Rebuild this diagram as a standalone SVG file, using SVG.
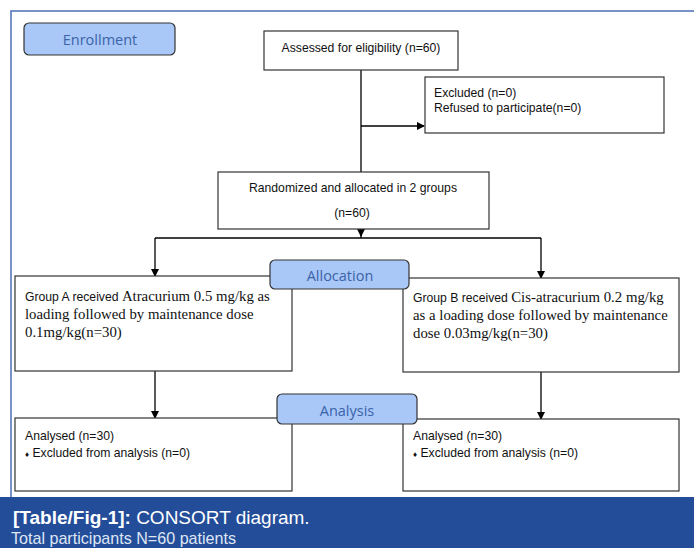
<svg xmlns="http://www.w3.org/2000/svg" width="694" height="548" viewBox="0 0 694 548">
<defs>
<marker id="ah" markerWidth="8" markerHeight="8" refX="7" refY="4" orient="auto" markerUnits="userSpaceOnUse">
<path d="M0,0 L8,4 L0,8 Z" fill="#000"/>
</marker>
<style>
.box{fill:#fff;stroke:#333;stroke-width:1.2}
.tag{fill:#a9c8f7;stroke:#333;stroke-width:1.2}
.tagt{font-family:"Open Sans","Liberation Sans",sans-serif;font-size:14.5px;fill:#3b63a8;text-anchor:middle}
.sans{font-family:"Liberation Sans",Arial,sans-serif;font-size:12.2px;fill:#111}
.serif{font-family:"Liberation Serif","Times New Roman",serif;font-size:14.8px;fill:#111}
.con{stroke:#000;stroke-width:1.3;fill:none}
</style>
</defs>
<rect width="694" height="548" fill="#fff"/>
<path d="M11,497 V11 H694" fill="none" stroke="#4a6fb8" stroke-width="1.5"/>

<g id="connectors">
<path class="con" d="M361,70 V173"/>
<path class="con" d="M361,126 H424" marker-end="url(#ah)"/>
<path class="con" d="M361,229 V238"/>
<path class="con" d="M361,229 V236" marker-end="url(#ah)"/>
<path class="con" d="M155,238 H541"/>
<path class="con" d="M155,238 V276" marker-end="url(#ah)"/>
<path class="con" d="M541,238 V278" marker-end="url(#ah)"/>
<path class="con" d="M155,371 V418" marker-end="url(#ah)"/>
<path class="con" d="M541,372 V419" marker-end="url(#ah)"/>
</g>

<g id="enrollment">
<rect class="tag" x="24" y="23" width="151" height="32" rx="5"/>
<text class="tagt" x="100" y="45">Enrollment</text>
</g>

<g id="assessed">
<rect class="box" x="264" y="31" width="194" height="39"/>
<text class="sans" x="361" y="52" text-anchor="middle">Assessed for eligibility (n=60)</text>
</g>

<g id="excluded">
<rect class="box" x="425" y="77" width="239" height="56"/>
<text class="sans" x="434" y="97">Excluded (n=0)</text>
<text class="sans" x="434" y="112">Refused to participate(n=0)</text>
</g>

<g id="randomized">
<rect class="box" x="218" y="172" width="271" height="57"/>
<text class="sans" x="353" y="192" text-anchor="middle">Randomized and allocated in 2 groups</text>
<text class="sans" x="352" y="217" text-anchor="middle">(n=60)</text>
</g>

<g id="groupA">
<rect class="box" x="15" y="276" width="277" height="95"/>
<text x="25" y="301"><tspan class="sans">Group A received </tspan><tspan class="serif">Atracurium 0.5 mg/kg as</tspan></text>
<text class="serif" x="25" y="319">loading followed by maintenance dose</text>
<text class="serif" x="25" y="337">0.1mg/kg(n=30)</text>
</g>

<g id="groupB">
<rect class="box" x="403" y="278" width="276" height="94"/>
<text x="413" y="302"><tspan class="sans">Group B received </tspan><tspan class="serif">Cis-atracurium 0.2 mg/kg</tspan></text>
<text class="serif" x="413" y="320">as a loading dose followed by maintenance</text>
<text class="serif" x="413" y="338">dose 0.03mg/kg(n=30)</text>
</g>

<g id="allocation">
<rect class="tag" x="270" y="260" width="139" height="29" rx="5"/>
<text class="tagt" x="340" y="281">Allocation</text>
</g>

<g id="analysedA">
<rect class="box" x="15" y="418" width="277" height="73"/>
<text class="sans" x="25" y="440">Analysed (n=30)</text>
<text class="sans" x="25" y="457"><tspan font-size="8">♦</tspan> Excluded from analysis (n=0)</text>
</g>

<g id="analysedB">
<rect class="box" x="403" y="419" width="276" height="72"/>
<text class="sans" x="413" y="440">Analysed (n=30)</text>
<text class="sans" x="413" y="457"><tspan font-size="8">♦</tspan> Excluded from analysis (n=0)</text>
</g>

<g id="analysis">
<rect class="tag" x="277" y="394" width="140" height="30" rx="5"/>
<text class="tagt" x="347" y="416">Analysis</text>
</g>

<g id="footer">
<rect x="0" y="497" width="694" height="51" fill="#234d99"/>
<text x="13" y="524" font-family="'Liberation Sans',Arial,sans-serif" font-size="19" fill="#fff"><tspan font-weight="bold">[Table/Fig-1]:</tspan> CONSORT diagram.</text>
<text x="11" y="544" font-family="'Liberation Sans',Arial,sans-serif" font-size="16.1" fill="#dfe6f3">Total participants N=60 patients</text>
</g>
</svg>
